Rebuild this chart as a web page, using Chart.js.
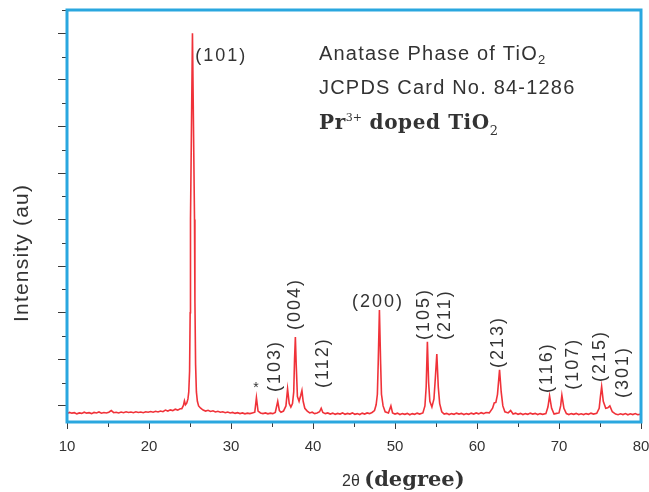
<!DOCTYPE html>
<html>
<head>
<meta charset="utf-8">
<script src="https://cdn.jsdelivr.net/npm/chart.js@4.4.1/dist/chart.umd.min.js"></script>
<style>
  html, body { margin: 0; padding: 0; background: #fff; }
  #xrd { display: block; }
</style>
</head>
<body>
<canvas id="xrd" width="649" height="492"></canvas>
<script>
// diffraction pattern (2theta in degrees, intensity in a.u.)
var twoTheta = [
  10.0, 10.3, 10.6, 10.9, 11.2, 11.5, 11.8, 12.1, 12.4, 12.7, 13.0, 13.3, 13.6, 13.9, 14.2, 14.5, 14.8, 15.1, 15.4, 15.7,
  16.0, 16.3, 16.6, 16.9, 17.2, 17.5, 17.8, 18.1, 18.4, 18.7, 19.0, 19.3, 19.6, 19.9, 20.2, 20.5, 20.8, 21.1, 21.4, 21.7,
  22.0, 22.3, 22.6, 22.9, 23.2, 23.5, 23.8, 24.0, 24.2, 24.32, 24.45, 24.6, 24.75, 24.85, 24.95, 25.02, 25.06, 25.3, 25.55, 25.6,
  25.68, 25.78, 25.9, 26.05, 26.3, 26.6, 26.9, 27.2, 27.5, 27.8, 28.1, 28.4, 28.7, 29.0, 29.3, 29.6, 29.9, 30.2, 30.5, 30.8,
  31.1, 31.4, 31.7, 32.0, 32.3, 32.6, 32.9, 33.1, 33.3, 33.6, 33.9, 34.2, 34.5, 34.8, 35.1, 35.4, 35.7, 35.9, 36.1, 36.4,
  36.7, 36.9, 37.1, 37.3, 37.5, 37.65, 37.75, 37.85, 37.95, 38.1, 38.3, 38.5, 38.65, 38.8, 39.0, 39.3, 39.6, 39.9, 40.2, 40.5,
  40.8, 41.0, 41.2, 41.5, 41.8, 42.1, 42.4, 42.7, 43.0, 43.3, 43.6, 43.9, 44.2, 44.5, 44.8, 45.1, 45.4, 45.7, 46.0, 46.3,
  46.6, 46.9, 47.2, 47.5, 47.7, 47.85, 47.95, 48.1, 48.25, 48.35, 48.55, 48.8, 49.2, 49.5, 49.7, 50.0, 50.3, 50.6, 50.9, 51.2,
  51.5, 51.8, 52.1, 52.4, 52.7, 53.0, 53.4, 53.65, 53.8, 53.95, 54.1, 54.25, 54.5, 54.75, 54.92, 55.1, 55.28, 55.45, 55.7, 56.0,
  56.3, 56.6, 56.9, 57.2, 57.5, 57.8, 58.1, 58.4, 58.7, 59.0, 59.3, 59.6, 59.9, 60.2, 60.5, 60.8, 61.1, 61.5, 61.9, 62.1,
  62.3, 62.5, 62.75, 62.95, 63.15, 63.4, 63.8, 64.1, 64.4, 64.7, 65.0, 65.3, 65.6, 65.9, 66.2, 66.5, 66.8, 67.1, 67.4, 67.7,
  68.0, 68.4, 68.65, 68.85, 69.1, 69.4, 69.7, 70.0, 70.2, 70.35, 70.6, 70.9, 71.2, 71.5, 71.8, 72.1, 72.4, 72.7, 73.0, 73.3,
  73.6, 73.9, 74.2, 74.6, 74.9, 75.05, 75.2, 75.4, 75.7, 75.95, 76.2, 76.5, 76.9, 77.2, 77.5, 77.8, 78.1, 78.4, 78.7, 79.0,
  79.3, 79.6, 80.0
];
var intensity = [
  -0.33, -0.28, -0.31, -0.29, -0.34, -0.30, -0.32, -0.27, -0.31, -0.29, -0.33, -0.28, -0.30, -0.26, -0.31, -0.28, -0.30, -0.27, -0.20, -0.29,
  -0.27, -0.30, -0.26, -0.29, -0.25, -0.28, -0.26, -0.29, -0.25, -0.28, -0.26, -0.29, -0.25, -0.27, -0.24, -0.27, -0.23, -0.26, -0.22, -0.25,
  -0.18, -0.22, -0.17, -0.20, -0.14, -0.18, -0.12, -0.12, 0.02, 0.22, 0.05, 0.12, 0.30, 0.60, 1.50, 4.00, 8.00, 16.00, 8.00, 4.50,
  1.80, 0.60, 0.20, 0.00, -0.10, -0.18, -0.22, -0.19, -0.24, -0.21, -0.26, -0.23, -0.27, -0.25, -0.29, -0.26, -0.30, -0.28, -0.32, -0.29,
  -0.33, -0.30, -0.34, -0.31, -0.33, -0.30, -0.27, 0.36, -0.22, -0.30, -0.33, -0.30, -0.34, -0.31, -0.33, -0.28, 0.20, -0.20, -0.27, -0.22,
  0.00, 0.73, 0.10, -0.05, 0.10, 0.60, 2.00, 2.96, 1.80, 0.40, 0.20, 0.45, 0.66, 0.20, -0.10, -0.22, -0.30, -0.27, -0.33, -0.30,
  -0.25, -0.10, -0.28, -0.33, -0.30, -0.35, -0.31, -0.36, -0.32, -0.35, -0.30, -0.36, -0.32, -0.35, -0.30, -0.36, -0.33, -0.37, -0.31, -0.35,
  -0.30, -0.33, -0.28, -0.20, 0.05, 0.50, 1.80, 4.12, 1.80, 0.50, 0.00, -0.25, -0.30, 0.00, -0.30, -0.35, -0.31, -0.37, -0.33, -0.36,
  -0.32, -0.38, -0.33, -0.36, -0.31, -0.35, -0.30, 0.00, 0.80, 2.76, 1.00, 0.20, -0.05, 0.30, 1.20, 2.23, 0.80, 0.10, -0.25, -0.35,
  -0.32, -0.37, -0.33, -0.36, -0.31, -0.35, -0.32, -0.37, -0.33, -0.36, -0.31, -0.35, -0.30, -0.34, -0.29, -0.33, -0.28, -0.30, -0.10, 0.13,
  0.15, 0.50, 1.55, 0.60, 0.00, -0.25, -0.30, -0.20, -0.35, -0.31, -0.36, -0.32, -0.37, -0.33, -0.36, -0.31, -0.35, -0.32, -0.37, -0.33,
  -0.36, -0.33, -0.05, 0.43, -0.10, -0.35, -0.32, -0.30, 0.00, 0.46, -0.10, -0.33, -0.37, -0.33, -0.36, -0.32, -0.37, -0.34, -0.37, -0.33,
  -0.36, -0.31, -0.35, -0.32, -0.10, 0.40, 0.83, 0.20, -0.10, -0.08, 0.00, -0.25, -0.35, -0.38, -0.34, -0.37, -0.33, -0.38, -0.34, -0.37,
  -0.33, -0.38, -0.35
];

// Miller-index labels written upright beside the peaks
var hklVertical = ['(103)', '(004)', '(112)', '(105)', '(211)', '(213)', '(116)', '(107)', '(215)', '(301)'];
var hklVerticalAt = [35.37, 37.80, 41.18, 53.54, 56.10, 62.56, 68.54, 71.71, 75.00, 77.80];
var hklVerticalFrom = [0.60, 3.26, 0.77, 2.83, 2.83, 1.63, 0.56, 0.69, 1.03, 0.34];
// labels written flat
var hklFlat = ['(101)', '(200)'];
var hklFlatAt = [28.80, 47.93];
var hklFlatLevel = [15.02, 4.46];
// impurity mark
var markAt = 33.05, markLevel = 0.75;

var xTicks = [10, 20, 30, 40, 50, 60, 70, 80];

var points = twoTheta.map(function(t, i) { return { x: t, y: intensity[i] }; });

var frameBlue = '#2aa7df';
var tickGray = '#3a3a3a';
var textGray = '#333';

function drawRuns(ctx, runs, x, y) {
  // draw a line of text made of pieces with their own font / baseline shift
  runs.forEach(function(r) {
    ctx.font = r.font;
    ctx.letterSpacing = r.spacing || '0px';
    ctx.fillText(r.text, x, y + (r.dy || 0));
    x += ctx.measureText(r.text).width;
  });
  ctx.letterSpacing = '0px';
}

var decor = {
  id: 'decor',
  beforeDraw: function(chart) {
    var ctx = chart.ctx;
    ctx.save();
    ctx.fillStyle = '#fff';
    ctx.fillRect(0, 0, chart.width, chart.height);
    ctx.restore();
  },
  afterDatasetsDraw: function(chart) {
    var ctx = chart.ctx;
    var a = chart.chartArea;
    var xs = chart.scales.x, ys = chart.scales.y;
    ctx.save();

    // minor ticks
    ctx.strokeStyle = tickGray;
    ctx.lineWidth = 1;
    ctx.beginPath();
    for (var v = 1; v <= 17; v += 2) {
      var py = Math.round(ys.getPixelForValue(v)) + 0.5;
      ctx.moveTo(a.left - 5, py);
      ctx.lineTo(a.left, py);
    }
    for (var t = 15; t < 80; t += 10) {
      var px = Math.round(xs.getPixelForValue(t)) + 0.5;
      ctx.moveTo(px, a.bottom);
      ctx.lineTo(px, a.bottom + 5);
    }
    ctx.stroke();

    // frame
    ctx.strokeStyle = frameBlue;
    ctx.lineWidth = 3;
    ctx.strokeRect(a.left, a.top, a.right - a.left, a.bottom - a.top);

    // peak labels
    ctx.fillStyle = textGray;
    ctx.font = '18px "Liberation Sans", Arial, sans-serif';
    ctx.letterSpacing = '2px';
    ctx.textBaseline = 'middle';
    ctx.textAlign = 'center';
    hklFlat.forEach(function(s, i) {
      ctx.fillText(s, xs.getPixelForValue(hklFlatAt[i]), ys.getPixelForValue(hklFlatLevel[i]));
    });
    ctx.textAlign = 'left';
    hklVertical.forEach(function(s, i) {
      ctx.save();
      ctx.translate(xs.getPixelForValue(hklVerticalAt[i]), ys.getPixelForValue(hklVerticalFrom[i]));
      ctx.rotate(-Math.PI / 2);
      ctx.fillText(s, 0, 0);
      ctx.restore();
    });
    ctx.letterSpacing = '0px';
    ctx.textAlign = 'center';
    ctx.font = '14px "Liberation Sans", Arial, sans-serif';
    ctx.fillText('*', xs.getPixelForValue(markAt), ys.getPixelForValue(markLevel));

    // legend block
    ctx.textAlign = 'left';
    ctx.textBaseline = 'alphabetic';
    var sans = '"Liberation Sans", Arial, sans-serif';
    var serif = '"DejaVu Serif", "Liberation Serif", serif';
    var lx = a.left + 252;
    drawRuns(ctx, [
      { text: 'Anatase Phase of TiO', font: '20px ' + sans, spacing: '1.2px' },
      { text: '2', font: '13px ' + sans, dy: 4 }
    ], lx, a.top + 50);
    drawRuns(ctx, [
      { text: 'JCPDS Card No. 84-1286', font: '20px ' + sans, spacing: '1.2px' }
    ], lx, a.top + 84);
    drawRuns(ctx, [
      { text: 'Pr', font: 'bold 20px ' + serif, spacing: '0.6px' },
      { text: '3+', font: '11px ' + serif, dy: -8 },
      { text: ' doped TiO', font: 'bold 20px ' + serif, spacing: '0.6px' },
      { text: '2', font: '13px ' + serif, dy: 6 }
    ], lx, a.top + 119);

    // axis titles
    ctx.save();
    ctx.translate(28, 322);
    ctx.rotate(-Math.PI / 2);
    ctx.font = '21px ' + sans;
    ctx.letterSpacing = '1.2px';
    ctx.fillText('Intensity (au)', 0, 0);
    ctx.restore();
    ctx.letterSpacing = '0px';

    drawRuns(ctx, [
      { text: '2\u03b8 ', font: '16px ' + sans },
      { text: '(degree)', font: 'bold 21px ' + serif }
    ], 342, 486);

    ctx.restore();
  }
};

var ctx = document.getElementById('xrd');
window.xrdChart = new Chart(ctx, {
  type: 'line',
  data: {
    datasets: [{
      data: points,
      borderColor: 'rgba(238,28,36,0.9)',
      borderWidth: 1.6,
      pointRadius: 0,
      tension: 0,
      fill: false
    }]
  },
  options: {
    responsive: false,
    animation: false,
    layout: { padding: { top: 10, right: 8, left: 0, bottom: 0 } },
    plugins: {
      legend: { display: false },
      tooltip: { enabled: false }
    },
    scales: {
      x: {
        type: 'linear',
        min: 10,
        max: 80,
        afterBuildTicks: function(scale) {
          scale.ticks = xTicks.map(function(v) { return { value: v }; });
        },
        ticks: {
          color: textGray,
          padding: 9,
          maxRotation: 0,
          font: { family: '"Liberation Sans", Arial, sans-serif', size: 15 }
        },
        grid: { drawOnChartArea: false, tickLength: 7, tickColor: tickGray },
        border: { display: false },
        afterFit: function(scale) {
          scale.height = 70;
          scale.paddingLeft = 0;
          scale.paddingRight = 0;
        }
      },
      y: {
        min: -0.69,
        max: 17,
        ticks: { display: false, stepSize: 2, includeBounds: false },
        grid: { drawOnChartArea: false, tickLength: 9, tickColor: tickGray },
        border: { display: false },
        afterFit: function(scale) { scale.width = 67; }
      }
    }
  },
  plugins: [decor]
});
</script>
</body>
</html>
